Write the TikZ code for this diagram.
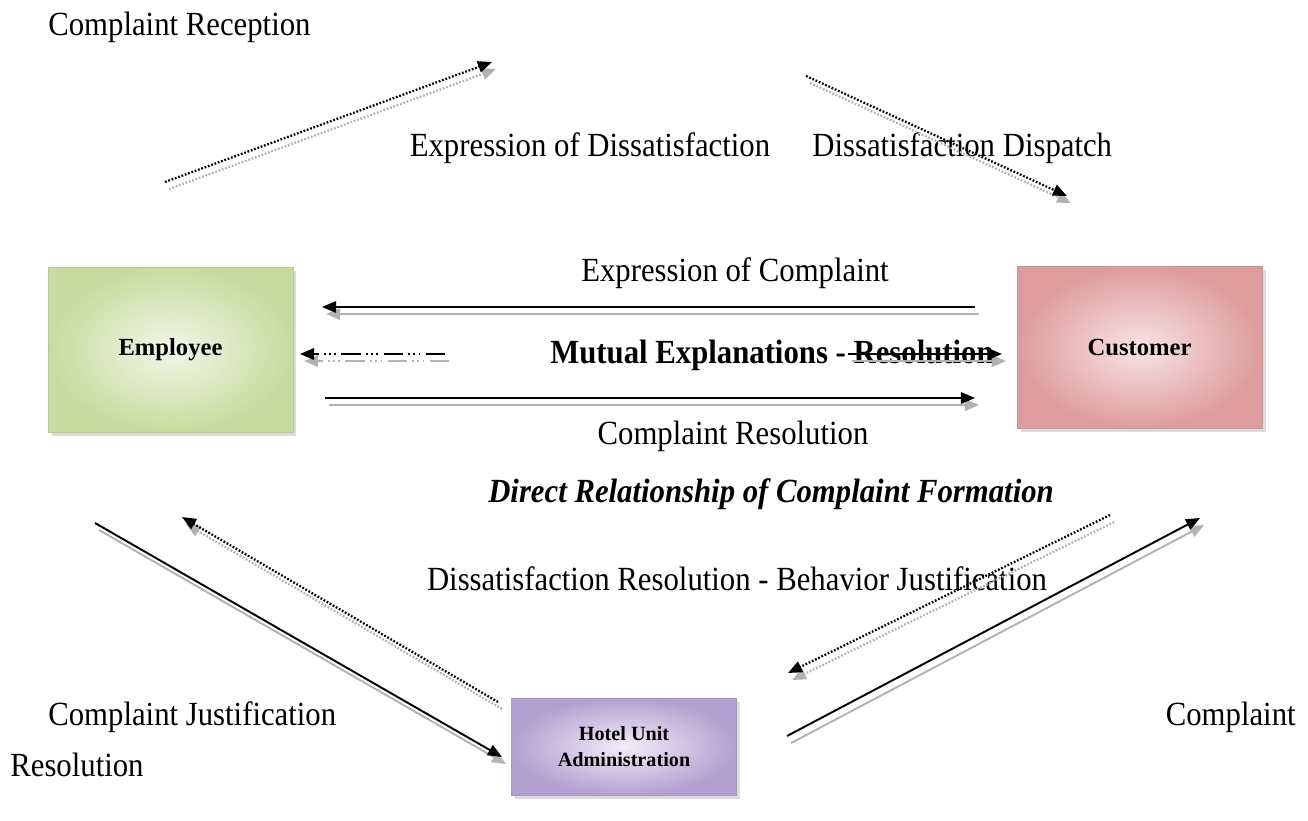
\documentclass[tikz,border=0pt]{standalone}
\usepackage{fontspec}
\setmainfont{Liberation Serif}
\usetikzlibrary{arrows.meta, positioning, shadows}

\definecolor{empEdge}{HTML}{C8DB9E}
\definecolor{empMid}{HTML}{F2F6E8}
\definecolor{custEdge}{HTML}{DE9C9C}
\definecolor{custMid}{HTML}{F8E4E4}
\definecolor{hotEdge}{HTML}{B4A0D0}
\definecolor{hotMid}{HTML}{F1EDF8}

\tikzset{
  lbl/.style={font=\fontsize{17.5}{21}\selectfont, inner sep=0pt, yscale=1.1, transform shape},
  actor/.style={draw=#1Edge!80!gray, line width=0.5pt, shading=radial,
    inner color=#1Mid, outer color=#1Edge,
    drop shadow={shadow xshift=2pt, shadow yshift=-2pt, fill=gray!55},
    font=\bfseries\fontsize{14}{16}\selectfont, align=center},
  tip/.style={-{Triangle[length=8pt,width=6.5pt]}},
  solidln/.style={tip, line width=1.1pt},
  dotln/.style={tip, line width=1.3pt, dash pattern=on 1pt off 1pt},
  dashdotln/.style={tip, line width=1.3pt, dash pattern=on 11pt off 3pt on 1pt off 2pt on 1pt off 2pt on 1pt off 3pt}
}

% gray offset copy first, then the black line
\newcommand{\shadedarrow}[3]{%
  \draw[#1, gray!60, transform canvas={xshift=2.3pt, yshift=-4pt}] (#2) -- (#3);
  \draw[#1] (#2) -- (#3);}

\begin{document}
\begin{tikzpicture}[x=0.02cm, y=-0.02cm]
    \useasboundingbox (0,0) rectangle (1308,821);

    % Actors
    \node[actor=emp, minimum width=4.9cm, minimum height=3.3cm] (emp) at (170.5,349.5) {Employee};
    \node[actor=cust, minimum width=4.9cm, minimum height=3.24cm] (cust) at (1139.5,347.5) {Customer};
    \node[actor=hot, minimum width=4.5cm, minimum height=1.94cm, font=\bfseries\fontsize{11.5}{14.5}\selectfont] (hotel) at (624,746.5) {Hotel Unit\\Administration};

    % Labels
    \node[lbl, anchor=west] (reception) at (48,27) {Complaint Reception};
    \node[lbl] (exprdis) at (590,148) {Expression of Dissatisfaction};
    \node[lbl, anchor=west] (dispatch) at (812,148) {Dissatisfaction Dispatch};
    \node[lbl] (exprcomp) at (735,273) {Expression of Complaint};
    \node[lbl, font=\bfseries\fontsize{17.5}{21}\selectfont] (mutual) at (772,355) {Mutual Explanations - Resolution};
    \node[lbl] (compres) at (733,436) {Complaint Resolution};
    \node[lbl, font=\bfseries\itshape\fontsize{17.5}{21}\selectfont] (direct) at (771,494) {Direct Relationship of Complaint Formation};
    \node[lbl] (behav) at (737,579) {Dissatisfaction Resolution - Behavior Justification};
    \node[lbl, anchor=west] (justif) at (48,717) {Complaint Justification};
    \node[lbl, anchor=west] (resol) at (10,765) {Resolution};
    \node[lbl, anchor=east] (complaint) at (1296,717) {Complaint};

    % Arrow end points
    \coordinate (recA) at (165,182);   \coordinate (recB) at (492,62);
    \coordinate (disA) at (806,76);    \coordinate (disB) at (1067,196);
    \coordinate (expA) at (975,307);   \coordinate (expB) at (322,307);
    \coordinate (mutA) at (445,354);   \coordinate (mutB) at (300,354);
    \coordinate (resA) at (848,354);   \coordinate (resB) at (1002,354);
    \coordinate (crA) at (325,398);    \coordinate (crB) at (975,398);
    \coordinate (jusA) at (95,523);    \coordinate (jusB) at (502,757);
    \coordinate (dsrA) at (498,702);   \coordinate (dsrB) at (182,517);
    \coordinate (bjA) at (1110,515);   \coordinate (bjB) at (788,673);
    \coordinate (cmpA) at (787,736);   \coordinate (cmpB) at (1200,518);

    % Connectors
    \shadedarrow{dotln}{recA}{recB}
    \shadedarrow{dotln}{disA}{disB}
    \shadedarrow{solidln}{expA}{expB}
    \shadedarrow{dashdotln}{mutA}{mutB}
    \shadedarrow{solidln}{resA}{resB}
    \shadedarrow{solidln}{crA}{crB}
    \shadedarrow{solidln}{jusA}{jusB}
    \shadedarrow{dotln}{dsrA}{dsrB}
    \shadedarrow{dotln}{bjA}{bjB}
    \shadedarrow{solidln}{cmpA}{cmpB}
\end{tikzpicture}
\end{document}
